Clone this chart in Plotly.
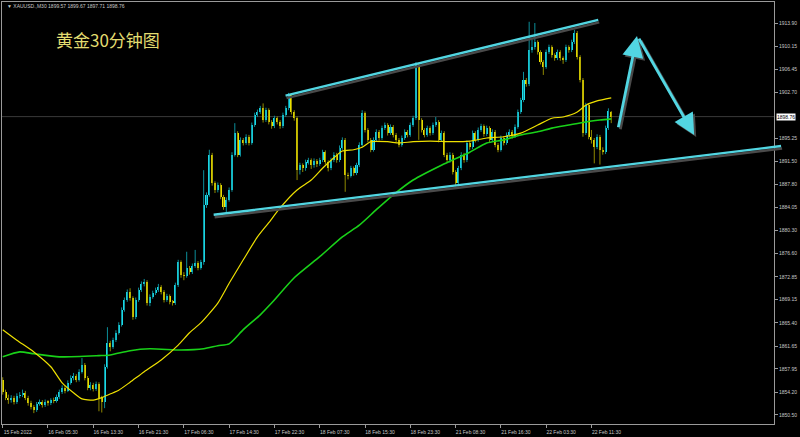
import plotly.graph_objects as go

# ---------------- data ----------------
opens = [
 1856.2,1854.2,1853.3,1852.9,1853.3,1852.6,1853.6,1853.7,1854.1,1853.3,
 1852.4,1851.8,1851.3,1852.3,1852.6,1852.1,1852.6,1852.4,1852.9,1852.8,
 1853.4,1854.2,1854.9,1854.4,1855.7,1856.5,1856.8,1856.2,1857.5,1858.6,
 1856.5,1854.9,1855.4,1854.7,1855.5,1853.3,1852.6,1858.3,1862.1,1861.5,
 1862.6,1863.8,1865.1,1867.5,1869.1,1870.4,1869.4,1866.3,1869.1,1870.7,
 1871.7,1872.0,1868.6,1869.6,1870.2,1870.7,1871.2,1870.4,1869.1,1869.7,
 1868.8,1868.6,1871.5,1875.2,1873.1,1873.0,1874.3,1873.6,1874.6,1875.1,
 1874.3,1875.2,1884.4,1886.1,1892.6,1888.0,1886.9,1887.7,1885.8,1884.1,
 1885.3,1886.9,1892.6,1896.1,1892.6,1895.0,1894.5,1895.5,1894.5,1897.4,
 1899.0,1899.5,1900.1,1898.2,1899.8,1897.9,1897.2,1898.5,1897.9,1897.2,
 1899.0,1900.1,1902.3,1899.5,1898.5,1890.1,1890.9,1890.4,1891.4,1891.7,
 1890.9,1891.6,1891.1,1891.7,1893.0,1891.4,1890.4,1891.7,1892.6,1891.7,
 1893.7,1895.0,1889.3,1889.2,1890.4,1889.6,1890.9,1894.2,1899.3,1896.6,
 1895.0,1893.4,1895.0,1896.3,1895.3,1896.9,1897.4,1896.1,1897.1,1895.8,
 1895.0,1894.2,1895.3,1896.3,1895.8,1897.4,1898.5,1907.1,1898.2,1896.6,
 1895.8,1896.9,1896.1,1897.4,1897.9,1895.0,1896.1,1892.6,1891.7,1892.6,
 1889.8,1888.0,1890.4,1892.6,1891.7,1894.5,1893.8,1896.1,1895.0,1896.6,
 1897.2,1895.9,1896.9,1895.0,1896.3,1894.2,1893.4,1895.3,1894.5,1895.8,
 1896.3,1895.6,1897.1,1899.5,1901.4,1904.7,1904.0,1909.5,1910.0,1910.8,
 1909.2,1907.6,1906.8,1909.2,1910.0,1908.7,1908.2,1909.2,1908.2,1907.9,
 1910.0,1909.5,1910.8,1912.3,1908.4,1904.7,1896.1,1900.6,1895.5,1895.0,
 1893.8,1895.5,1893.4,1893.0,1896.9,1899.57]
highs = [
 1856.6,1854.6,1853.8,1853.7,1853.6,1854.0,1854.2,1854.6,1854.4,1853.6,
 1852.8,1852.1,1852.6,1853.0,1852.9,1853.0,1852.9,1853.2,1853.3,1853.8,
 1854.6,1855.3,1855.2,1856.1,1856.9,1857.3,1857.1,1857.9,1859.7,1858.9,
 1856.8,1855.8,1855.7,1855.9,1855.8,1853.6,1858.7,1864.7,1862.5,1863.0,
 1864.2,1865.5,1867.9,1869.5,1870.8,1871.0,1869.7,1869.5,1871.1,1872.1,
 1872.5,1872.3,1870.0,1870.6,1871.1,1871.7,1871.5,1870.7,1870.1,1870.0,
 1869.1,1871.9,1875.6,1875.5,1873.6,1876.9,1874.6,1875.0,1877.2,1875.4,
 1875.6,1890.1,1886.5,1893.4,1892.9,1888.3,1888.1,1888.0,1886.1,1885.7,
 1887.3,1893.0,1897.7,1896.4,1895.4,1895.3,1895.9,1895.8,1897.8,1899.4,
 1899.9,1900.5,1900.9,1900.2,1900.1,1898.2,1898.9,1898.8,1898.2,1899.4,
 1900.5,1902.6,1902.5,1899.8,1898.8,1891.3,1891.2,1891.8,1892.1,1892.0,
 1892.0,1891.9,1892.1,1893.4,1893.3,1891.7,1892.1,1893.0,1892.9,1894.1,
 1895.4,1895.3,1889.7,1890.8,1890.7,1891.3,1894.6,1899.8,1899.6,1896.9,
 1895.3,1895.4,1896.7,1896.6,1897.3,1897.8,1897.7,1897.5,1897.4,1896.1,
 1895.3,1895.7,1896.7,1896.6,1897.8,1898.9,1907.6,1907.4,1898.5,1896.9,
 1897.3,1897.2,1897.8,1898.7,1898.2,1896.5,1896.4,1892.9,1893.0,1892.9,
 1890.1,1890.8,1893.0,1892.9,1894.9,1894.8,1896.5,1896.4,1897.0,1897.6,
 1897.5,1897.3,1897.2,1896.7,1896.6,1894.5,1895.7,1895.6,1896.2,1896.7,
 1896.6,1897.5,1899.9,1901.8,1906.0,1905.0,1914.1,1911.2,1913.9,1911.1,
 1909.5,1907.9,1909.6,1910.4,1910.3,1909.0,1909.6,1909.5,1908.5,1910.4,
 1910.3,1911.2,1912.8,1912.6,1908.7,1905.0,1901.0,1900.9,1896.6,1895.3,
 1895.9,1895.8,1893.8,1897.3,1900.1,1899.67]
lows = [
 1853.8,1852.9,1852.3,1852.5,1852.2,1852.3,1853.2,1853.4,1852.9,1852.0,
 1851.4,1850.8,1851.0,1852.0,1851.7,1851.8,1852.0,1852.1,1852.4,1852.5,
 1853.1,1853.9,1854.0,1854.2,1855.4,1856.1,1855.8,1855.9,1857.2,1856.1,
 1854.5,1854.5,1854.3,1854.4,1851.1,1850.9,1851.6,1858.0,1860.8,1861.2,
 1862.3,1863.5,1864.8,1867.2,1868.8,1869.0,1865.9,1866.0,1868.8,1870.4,
 1871.3,1868.2,1868.1,1869.3,1869.9,1870.4,1870.0,1868.7,1868.8,1868.4,
 1868.2,1868.3,1871.2,1872.7,1872.3,1872.7,1873.2,1873.3,1874.3,1873.9,
 1874.0,1874.8,1884.0,1885.8,1887.6,1886.4,1886.5,1885.4,1883.7,1883.2,
 1885.0,1886.6,1892.3,1892.2,1892.3,1894.1,1894.2,1894.1,1894.2,1897.1,
 1898.7,1899.2,1897.8,1897.9,1897.5,1896.8,1896.9,1897.5,1896.8,1896.9,
 1898.7,1899.8,1899.1,1898.1,1888.5,1889.4,1889.8,1890.0,1891.0,1890.3,
 1890.5,1890.6,1890.8,1891.4,1891.0,1889.9,1890.1,1891.4,1891.3,1891.4,
 1893.4,1886.6,1888.6,1888.9,1889.2,1889.3,1890.6,1893.9,1896.2,1894.6,
 1893.0,1893.1,1894.7,1894.9,1895.0,1896.6,1895.7,1895.8,1895.4,1894.6,
 1893.8,1893.9,1895.0,1895.4,1895.5,1897.1,1898.2,1895.0,1896.2,1895.4,
 1895.5,1895.7,1895.8,1897.1,1894.6,1894.7,1892.2,1891.3,1891.3,1889.4,
 1887.5,1887.5,1890.1,1891.3,1891.4,1893.4,1893.5,1894.6,1894.7,1896.3,
 1895.5,1895.6,1894.6,1894.7,1893.8,1893.0,1893.1,1894.1,1894.2,1895.5,
 1895.2,1895.3,1896.8,1899.2,1901.1,1903.6,1903.7,1909.1,1909.6,1908.8,
 1907.2,1905.5,1906.5,1908.9,1908.3,1907.8,1907.9,1907.8,1907.3,1907.6,
 1909.1,1909.2,1910.5,1908.0,1904.3,1895.5,1895.8,1895.1,1894.4,1891.2,
 1893.5,1891.0,1892.6,1892.7,1896.6,1897.71]
closes = [
 1854.2,1853.3,1852.9,1853.3,1852.6,1853.6,1853.7,1854.1,1853.3,1852.4,
 1851.8,1851.3,1852.3,1852.6,1852.1,1852.6,1852.4,1852.9,1852.8,1853.4,
 1854.2,1854.9,1854.4,1855.7,1856.5,1856.8,1856.2,1857.5,1858.6,1856.5,
 1854.9,1855.4,1854.7,1855.5,1853.3,1852.6,1858.3,1862.1,1861.5,1862.6,
 1863.8,1865.1,1867.5,1869.1,1870.4,1869.4,1866.3,1869.1,1870.7,1871.7,
 1872.0,1868.6,1869.6,1870.2,1870.7,1871.2,1870.4,1869.1,1869.7,1868.8,
 1868.6,1871.5,1875.2,1873.1,1873.0,1874.3,1873.6,1874.6,1875.1,1874.3,
 1875.2,1884.4,1886.1,1892.6,1888.0,1886.9,1887.7,1885.8,1884.1,1885.3,
 1886.9,1892.6,1896.1,1892.6,1895.0,1894.5,1895.5,1894.5,1897.4,1899.0,
 1899.5,1900.1,1898.2,1899.8,1897.9,1897.2,1898.5,1897.9,1897.2,1899.0,
 1900.1,1902.3,1899.5,1898.5,1890.1,1890.9,1890.4,1891.4,1891.7,1890.9,
 1891.6,1891.1,1891.7,1893.0,1891.4,1890.4,1891.7,1892.6,1891.7,1893.7,
 1895.0,1889.3,1889.2,1890.4,1889.6,1890.9,1894.2,1899.3,1896.6,1895.0,
 1893.4,1895.0,1896.3,1895.3,1896.9,1897.4,1896.1,1897.1,1895.8,1895.0,
 1894.2,1895.3,1896.3,1895.8,1897.4,1898.5,1907.1,1898.2,1896.6,1895.8,
 1896.9,1896.1,1897.4,1897.9,1895.0,1896.1,1892.6,1891.7,1892.6,1889.8,
 1888.0,1890.4,1892.6,1891.7,1894.5,1893.8,1896.1,1895.0,1896.6,1897.2,
 1895.9,1896.9,1895.0,1896.3,1894.2,1893.4,1895.3,1894.5,1895.8,1896.3,
 1895.6,1897.1,1899.5,1901.4,1904.7,1904.0,1909.5,1910.0,1910.8,1909.2,
 1907.6,1906.8,1909.2,1910.0,1908.7,1908.2,1909.2,1908.2,1907.9,1910.0,
 1909.5,1910.8,1912.3,1908.4,1904.7,1896.1,1900.6,1895.5,1895.0,1893.8,
 1895.5,1893.4,1893.0,1896.9,1899.6,1898.76]

# moving averages, read at selected bars
ma_fast_bar = [0,5,11,17,21,25,28,32,35,39,41,45,50,56,62,66,70,76,80,85,
               90,94,98,104,109,113,117,120,124,127,130,136,140,145,151,159,
               165,171,177,183,189,194,198,203,206,210,215]
ma_fast = [1864.3,1862.6,1860.7,1858.3,1855.7,1854.1,1853.1,1852.9,1853.3,1854.1,
           1854.5,1855.8,1857.5,1859.4,1861.8,1863.8,1865.4,1868.6,1871.8,1875.6,
           1879.3,1881.6,1884.0,1886.9,1888.5,1890.4,1892.1,1893.2,1893.4,1893.8,
           1894.7,1894.7,1894.5,1894.7,1894.8,1894.7,1894.8,1895.3,1895.5,1896.1,
           1897.4,1898.5,1898.7,1899.5,1900.6,1901.3,1901.8]
ma_slow_bar = [0,6,11,20,34,38,45,52,63,71,76,80,85,91,95,103,112,120,126,132,
               138,145,155,165,171,177,183,189,194,200,206,211,215]
ma_slow = [1859.9,1860.7,1860.4,1859.9,1860.1,1860.2,1860.9,1861.2,1861.0,1861.2,
           1861.7,1862.0,1864.3,1866.7,1868.6,1872.7,1876.1,1879.3,1881.2,1883.7,
           1886.1,1888.5,1890.9,1893.0,1894.5,1895.0,1895.8,1896.3,1896.9,1897.4,
           1897.9,1898.2,1898.4]

# x axis labels
x_tick_bars = [0,16,32,48,64,80,96,112,128,144,160,176,192,208]
x_tick_text = ["15 Feb 2022","16 Feb 05:30","16 Feb 13:30","16 Feb 21:30",
               "17 Feb 06:30","17 Feb 14:30","17 Feb 22:30","18 Feb 07:30",
               "18 Feb 15:30","18 Feb 23:30","21 Feb 08:30","21 Feb 16:30",
               "22 Feb 03:30","22 Feb 11:30"]
# price axis labels
y_tick_vals = [1850.50,1854.20,1857.95,1861.65,1865.40,1869.15,1872.85,1876.60,
               1880.30,1884.05,1887.80,1891.50,1895.25,1902.70,1906.45,1910.15,1913.90]
last_price = 1898.76
header_text = "XAUUSD.,M30 1899.57 1899.67 1897.71 1898.76"
title_text = "黄金30分钟图"

# drawn objects (bar index, price)
trend_start_bar = [99.4, 74.0]
trend_start_px = [1902.1, 1882.85]
trend_end_bar = [210.4, 275.0]
trend_end_px = [1914.4, 1894.0]
arrow_start_bar = [217.4, 224.5]
arrow_start_px = [1896.8, 1911.6]
arrow_end_bar = [224.1, 244.3]
arrow_end_px = [1911.8, 1895.8]

# ---------------- styling ----------------
CYAN = "#1fe0ee"
YELLOW = "#f4e800"
CYAN_W = "#0c8e99"
YELLOW_W = "#8f8800"
LINE_C = "#52d6e2"
SHADOW = "#4a4a4a"
FRAME = "#9a9a9a"
TXT = "#c8c8c8"

n = len(closes)
bars = list(range(n))
is_up = [c >= o for o, c in zip(opens, closes)]

fig = go.Figure()

# wicks
for flag, col in ((True, CYAN_W), (False, YELLOW_W)):
    wx, wy = [], []
    for i in bars:
        if is_up[i] == flag:
            wx += [i, i, None]
            wy += [lows[i], highs[i], None]
    fig.add_trace(go.Scatter(x=wx, y=wy, mode="lines",
                             line=dict(color=col, width=1),
                             hoverinfo="skip", showlegend=False))

# bodies
fig.add_trace(go.Bar(
    x=bars, base=opens, y=[c - o for o, c in zip(opens, closes)],
    width=0.72,
    marker=dict(color=[CYAN if u else YELLOW for u in is_up], line=dict(width=0)),
    showlegend=False, hoverinfo="skip"))

# moving averages
fig.add_trace(go.Scatter(x=ma_slow_bar, y=ma_slow, mode="lines",
                         line=dict(color="#19d119", width=1.6, shape="spline", smoothing=0.6),
                         showlegend=False, hoverinfo="skip"))
fig.add_trace(go.Scatter(x=ma_fast_bar, y=ma_fast, mode="lines",
                         line=dict(color="#eee000", width=1.2, shape="spline", smoothing=0.6),
                         showlegend=False, hoverinfo="skip"))

annotations = []
# channel lines (shadow + line)
for k in range(len(trend_start_bar)):
    for col, xs, ys in ((SHADOW, 1, -2.5), (LINE_C, 0, 0)):
        annotations.append(dict(
            x=trend_end_bar[k], y=trend_end_px[k], ax=trend_start_bar[k], ay=trend_start_px[k],
            xref="x", yref="y", axref="x", ayref="y", text="", showarrow=True,
            arrowhead=0, arrowwidth=2.4, arrowcolor=col, xshift=xs, yshift=ys,
            standoff=0, startstandoff=0))
# forecast arrows
for k in range(len(arrow_start_bar)):
    for col, xs, ys in ((SHADOW, 2, -2), (LINE_C, 0, 0)):
        annotations.append(dict(
            x=arrow_end_bar[k], y=arrow_end_px[k], ax=arrow_start_bar[k], ay=arrow_start_px[k],
            xref="x", yref="y", axref="x", ayref="y", text="", showarrow=True,
            arrowhead=2, arrowsize=1.5, arrowwidth=2.8, arrowcolor=col,
            xshift=xs, yshift=ys, standoff=0, startstandoff=0))

# current price tag
annotations.append(dict(x=1, xref="paper", y=last_price, yref="y", xanchor="left",
                        xshift=2, text=f"{last_price:.2f}", showarrow=False,
                        bgcolor="#ffffff", borderpad=0,
                        font=dict(size=5, color="#000000", family="Liberation Sans")))
# header
annotations.append(dict(x=0.004, xref="paper", y=0.991, yref="paper", xanchor="left",
                        yanchor="middle", text="▼ " + header_text, showarrow=False,
                        font=dict(size=5, color=TXT, family="Liberation Sans")))
# title
annotations.append(dict(x=0.068, xref="paper", y=0.912, yref="paper", xanchor="left",
                        yanchor="middle", text=title_text, showarrow=False,
                        font=dict(size=17, color="#e3dc70", family="Noto Sans CJK SC")))

fig.update_layout(
    width=800, height=437,
    margin=dict(l=2, r=26, t=2, b=13, autoexpand=False),
    paper_bgcolor="#000000", plot_bgcolor="#000000",
    barmode="overlay", bargap=0,
    showlegend=False,
    annotations=annotations,
    shapes=[dict(type="line", xref="paper", x0=0, x1=1, yref="y",
                 y0=last_price, y1=last_price, line=dict(color="#3a3a3a", width=1),
                 layer="below")],
    xaxis=dict(range=[-0.25, 272.5], tickmode="array", tickvals=x_tick_bars,
               ticktext=x_tick_text, ticks="outside", ticklen=3, tickcolor=FRAME,
               tickfont=dict(size=5, color=TXT, family="Liberation Sans"),
               ticklabelshift=15, ticklabelstandoff=0,
               showline=True, linecolor=FRAME, linewidth=1, mirror=True,
               showgrid=False, zeroline=False, fixedrange=True),
    yaxis=dict(range=[1849.04, 1917.30], side="right", tickmode="array",
               tickvals=y_tick_vals, ticktext=[f"{v:.2f}" for v in y_tick_vals],
               ticks="outside", ticklen=3, tickcolor=FRAME,
               tickfont=dict(size=5, color=TXT, family="Liberation Sans"),
               showline=True, linecolor=FRAME, linewidth=1, mirror=True,
               showgrid=False, zeroline=False, fixedrange=True),
)

fig.write_html("out.html", config={"displayModeBar": False},
               post_script="document.body.style.margin='0';document.body.style.background='#000';")
